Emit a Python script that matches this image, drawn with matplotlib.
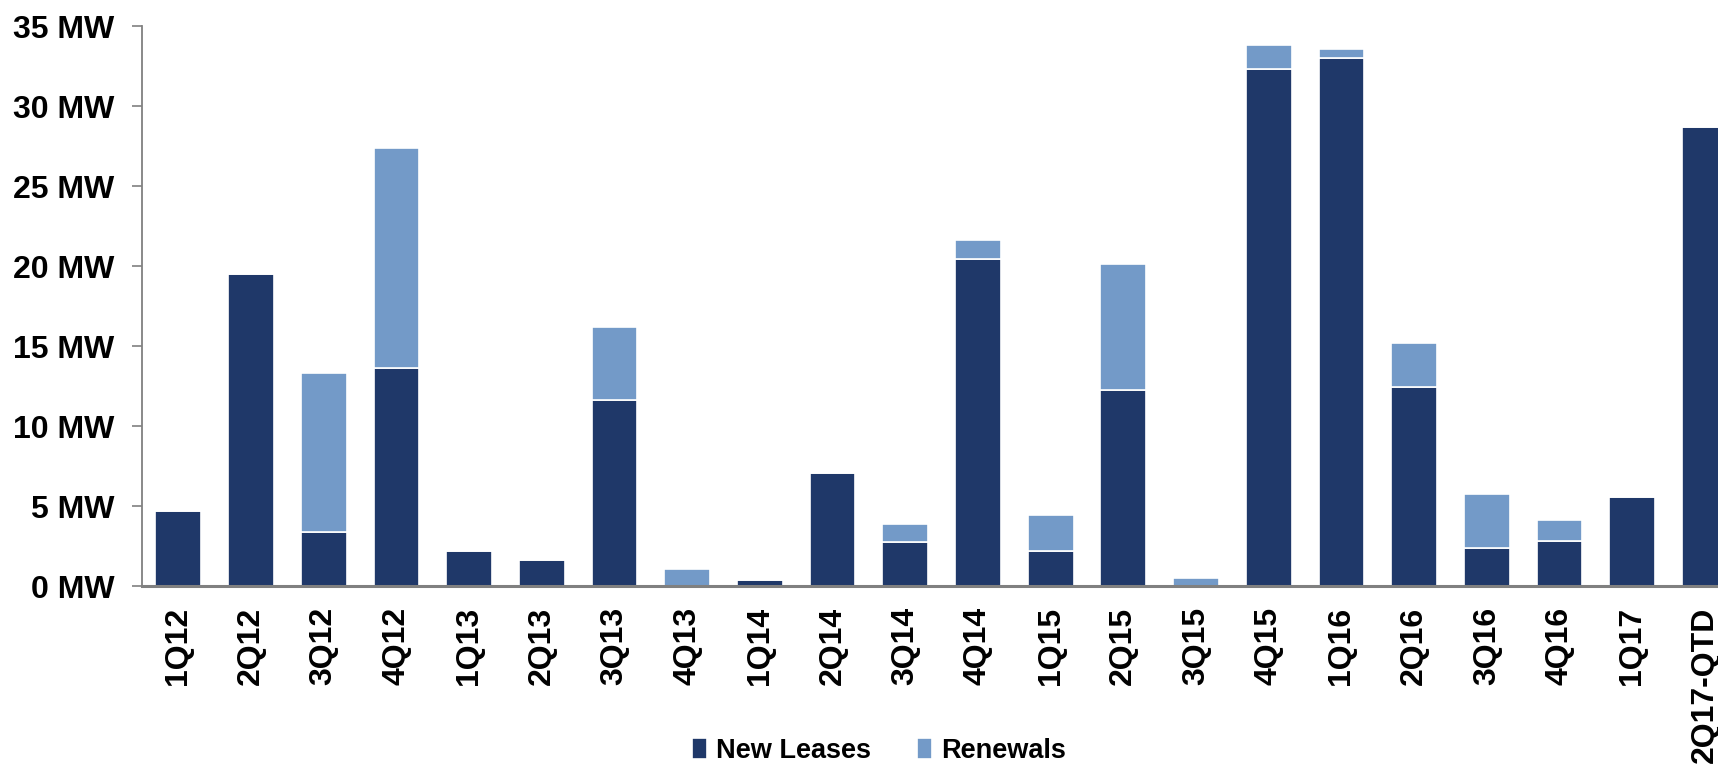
import matplotlib.pyplot as plt
import numpy as np

plt.rcParams['font.family'] = ['Liberation Sans', 'DejaVu Sans']
plt.rcParams['font.weight'] = 'bold'

quarters = ['1Q12', '2Q12', '3Q12', '4Q12', '1Q13', '2Q13', '3Q13', '4Q13',
            '1Q14', '2Q14', '3Q14', '4Q14', '1Q15', '2Q15', '3Q15', '4Q15',
            '1Q16', '2Q16', '3Q16', '4Q16', '1Q17', '2Q17-QTD']
new_leases = [4.7, 19.5, 3.4, 13.6, 2.2, 1.65, 11.65, 0.0,
              0.4, 7.05, 2.75, 20.45, 2.2, 12.25, 0.0, 32.3,
              33.0, 12.45, 2.35, 2.8, 5.55, 28.7]
renewals = [0.0, 0.0, 9.9, 13.8, 0.0, 0.0, 4.55, 1.05,
            0.0, 0.0, 1.1, 1.15, 2.25, 7.9, 0.5, 1.5,
            0.55, 2.75, 3.4, 1.3, 0.0, 0.0]

navy = '#1F3869'
light = '#739AC8'
grey = '#808080'

fig = plt.figure(figsize=(17.18, 7.65), dpi=100)
ax = fig.add_axes([142 / 1718, 1 - 586 / 765, 1 - 142 / 1718, 560 / 765])

x = np.arange(len(quarters))
ax.bar(x, new_leases, width=0.63, color=navy, edgecolor='white',
       linewidth=1.2, label='New Leases')
ax.bar(x, renewals, width=0.63, bottom=new_leases, color=light,
       edgecolor='white', linewidth=1.2, label='Renewals')

ax.set_ylim(0, 35)
ax.set_xlim(-0.5, 21.18)
ax.set_yticks(range(0, 36, 5))
ax.set_yticklabels([f'{v} MW' for v in range(0, 36, 5)])
ax.set_xticks(x)
ax.set_xticklabels(quarters, rotation=90)

ax.tick_params(axis='y', length=7, width=1.2, color=grey, pad=13,
               labelsize=23)
ax.tick_params(axis='x', length=0, pad=15, labelsize=23)

for side in ['top', 'right']:
    ax.spines[side].set_visible(False)
ax.spines['left'].set_color(grey)
ax.spines['left'].set_linewidth(1.3)
ax.spines['bottom'].set_color(grey)
ax.spines['bottom'].set_linewidth(2.2)

fig.legend(loc='center', bbox_to_anchor=(879 / 1718, 1 - 751 / 765),
           ncol=2, frameon=False, fontsize=19.5, handlelength=0.55,
           handleheight=0.8, handletextpad=0.35, columnspacing=1.7,
           borderpad=0.1)

fig.savefig('out.png', dpi=100)
